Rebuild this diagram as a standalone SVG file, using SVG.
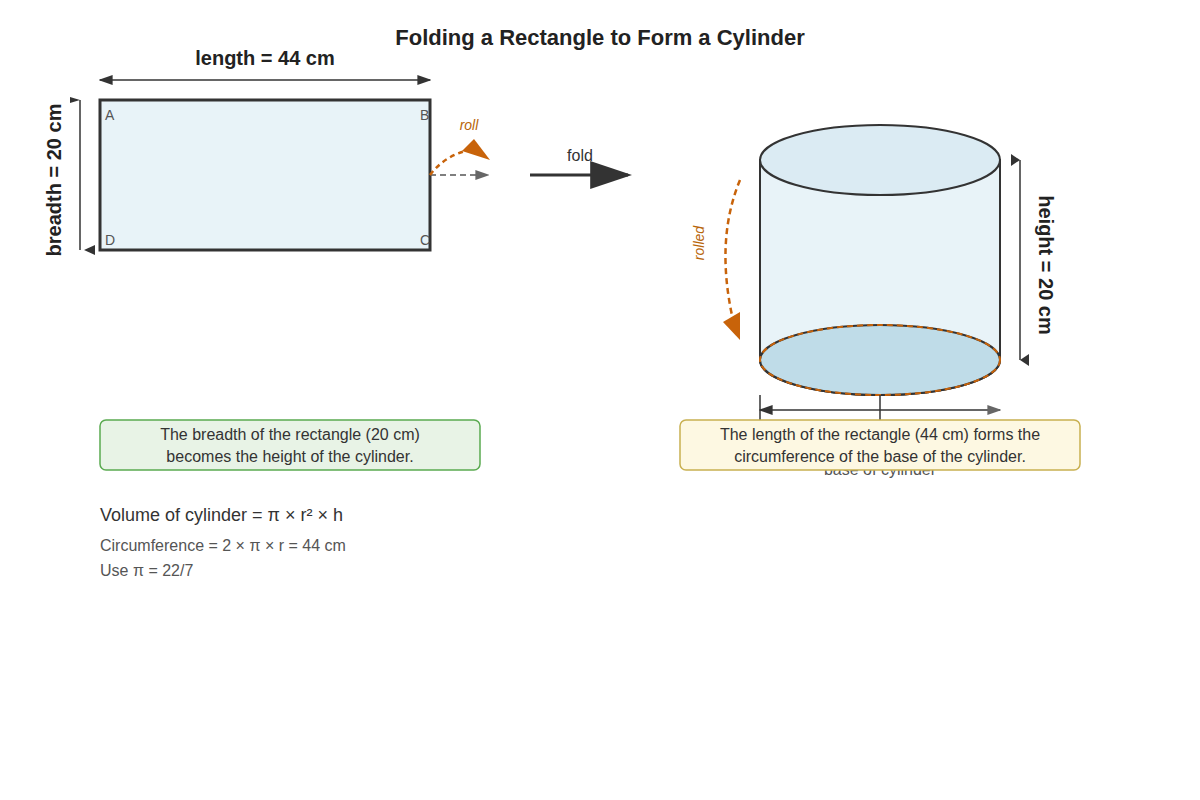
<svg xmlns="http://www.w3.org/2000/svg" width="1200" height="800" viewBox="0 0 1200 800">
<style>
text{font-family:"Liberation Sans",Arial,sans-serif;}
.t{font-size:20px;font-weight:bold;fill:#222;}
.lbl{font-size:14px;fill:#555;}
.c{font-size:16px;fill:#333;text-anchor:middle;}
.dim{stroke:#333;stroke-width:1.5;fill:none;}
</style>
<defs>
<marker id="ah" viewBox="0 0 10 10" refX="9" refY="5" markerWidth="14" markerHeight="10" markerUnits="userSpaceOnUse" orient="auto-start-reverse" preserveAspectRatio="none"><path d="M0,0L10,5L0,10z" fill="#333"/></marker>
<marker id="ag" viewBox="0 0 10 10" refX="9" refY="5" markerWidth="14" markerHeight="10" markerUnits="userSpaceOnUse" orient="auto-start-reverse" preserveAspectRatio="none"><path d="M0,0L10,5L0,10z" fill="#666"/></marker>
<marker id="big" viewBox="0 0 10 10" refX="9" refY="5" markerWidth="42" markerHeight="28" markerUnits="userSpaceOnUse" orient="auto" preserveAspectRatio="none"><path d="M0,0L10,5L0,10z" fill="#333"/></marker>
</defs>
<rect width="1200" height="800" fill="#fff"/>
<text x="600" y="45" text-anchor="middle" style="font-size:22px;font-weight:bold;fill:#222">Folding a Rectangle to Form a Cylinder</text>

<g id="rectangle">
<rect x="100" y="100" width="330" height="150" fill="#e8f3f8" stroke="#333" stroke-width="3"/>
<text x="105" y="120" class="lbl">A</text>
<text x="420" y="120" class="lbl">B</text>
<text x="420" y="245" class="lbl">C</text>
<text x="105" y="245" class="lbl">D</text>
</g>

<g id="cylinder">
<path d="M760,160 V360 A120,35 0 0 0 1000,360 V160 Z" fill="#e8f3f8" stroke="#333" stroke-width="2"/>
<ellipse cx="880" cy="360" rx="120" ry="35" fill="#bfdce8" stroke="#333" stroke-width="2"/>
<ellipse cx="880" cy="360" rx="120" ry="35" fill="none" stroke="#c8630a" stroke-width="2" stroke-dasharray="6,4"/>
<ellipse cx="880" cy="160" rx="120" ry="35" fill="#dbebf3" stroke="#333" stroke-width="2"/>
</g>

<g id="connectors">
<line x1="100" y1="80" x2="430" y2="80" class="dim" marker-start="url(#ah)" marker-end="url(#ah)"/>
<line x1="80" y1="100" x2="80" y2="250" class="dim"/>
<polygon points="70,97 80,100 70,103" fill="#333"/>
<polygon points="95,245 84,250 95,255" fill="#333"/>
<line x1="1020" y1="160" x2="1020" y2="360" class="dim"/>
<polygon points="1011,154 1020,160 1011,166" fill="#333"/>
<polygon points="1029,354 1020,360 1029,366" fill="#333"/>
<line x1="430" y1="175" x2="488" y2="175" stroke="#555" stroke-width="1.5" stroke-dasharray="6,4" marker-end="url(#ag)"/>
<path d="M430,175 Q445,155 470,150" fill="none" stroke="#c8630a" stroke-width="2.5" stroke-dasharray="5,4"/>
<polygon points="462,151 474,139 490,160" fill="#c8630a"/>
<line x1="530" y1="175" x2="628" y2="175" stroke="#333" stroke-width="3" marker-end="url(#big)"/>
<path d="M740,180 Q715,240 733,320" fill="none" stroke="#c8630a" stroke-width="2.5" stroke-dasharray="6,4"/>
<polygon points="723,322 740,312 740,340" fill="#c8630a"/>
<line x1="760" y1="395" x2="760" y2="420" class="dim"/>
<line x1="880" y1="395" x2="880" y2="420" class="dim"/>
<line x1="760" y1="410" x2="1000" y2="410" class="dim" marker-start="url(#ah)" marker-end="url(#ag)"/>
</g>

<text x="265" y="65" text-anchor="middle" class="t">length = 44 cm</text>
<text transform="translate(61,180) rotate(-90)" text-anchor="middle" class="t">breadth = 20 cm</text>
<text transform="translate(1039,265) rotate(90)" text-anchor="middle" class="t">height = 20 cm</text>
<text x="469" y="130" text-anchor="middle" style="font-size:14px;font-style:italic;fill:#b8660a">roll</text>
<text x="580" y="161" text-anchor="middle" style="font-size:16px;fill:#333">fold</text>
<text transform="translate(704,243) rotate(-90)" text-anchor="middle" style="font-size:14px;font-style:italic;fill:#b8660a">rolled</text>
<text x="880" y="475" text-anchor="middle" style="font-size:16px;fill:#555">base of cylinder</text>

<g id="note-left">
<rect x="100" y="420" width="380" height="50" rx="6" fill="#e8f3e6" stroke="#5aaa50" stroke-width="1.5"/>
<text x="290" y="440" class="c">The breadth of the rectangle (20 cm)</text>
<text x="290" y="462" class="c">becomes the height of the cylinder.</text>
</g>
<g id="note-right">
<rect x="680" y="420" width="400" height="50" rx="6" fill="#fdf8e2" stroke="#c8b050" stroke-width="1.5"/>
<text x="880" y="440" class="c">The length of the rectangle (44 cm) forms the</text>
<text x="880" y="462" class="c">circumference of the base of the cylinder.</text>
</g>

<text x="100" y="521" style="font-size:18px;fill:#333">Volume of cylinder = π × r² × h</text>
<text x="100" y="551" style="font-size:16px;fill:#555">Circumference = 2 × π × r = 44 cm</text>
<text x="100" y="576" style="font-size:16px;fill:#555">Use π = 22/7</text>
</svg>
